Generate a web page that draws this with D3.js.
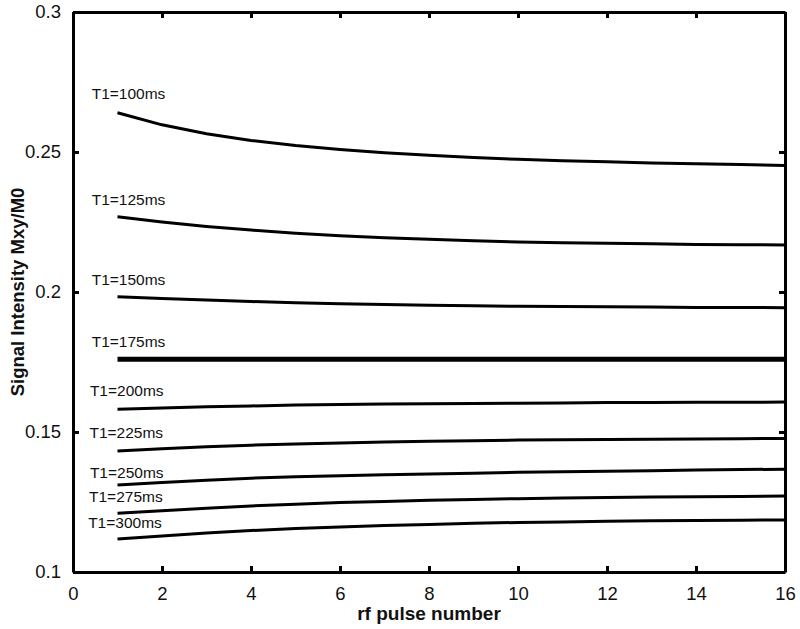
<!DOCTYPE html>
<html>
<head>
<meta charset="utf-8">
<script src="https://cdn.jsdelivr.net/npm/d3@7"></script>
<style>
    body { margin: 0; background: #fff; }
    text { font-family: Arial, "Liberation Sans", sans-serif; fill: #111; }
</style>
</head>
<body>
<svg id="chart"></svg>
<script>
// rf pulse numbers
let pulses = [1, 2, 3, 4, 5, 6, 7, 8, 9, 10, 11, 12, 13, 14, 15, 16];
let t1Labels = ['T1=100ms', 'T1=125ms', 'T1=150ms', 'T1=175ms', 'T1=200ms',
    'T1=225ms', 'T1=250ms', 'T1=275ms', 'T1=300ms'];

// signal intensity per curve
let s100 = [0.2640, 0.2597, 0.2565, 0.2541, 0.2523, 0.2509, 0.2497, 0.2488, 0.2480, 0.2474, 0.2469, 0.2465, 0.2461, 0.2458, 0.2455, 0.2452];
let s125 = [0.2269, 0.2250, 0.2234, 0.2221, 0.2210, 0.2201, 0.2194, 0.2188, 0.2183, 0.2179, 0.2176, 0.2174, 0.2172, 0.2170, 0.2169, 0.2168];
let s150 = [0.1983, 0.1977, 0.1971, 0.1966, 0.1962, 0.1958, 0.1955, 0.1953, 0.1951, 0.1949, 0.1948, 0.1947, 0.1946, 0.1945, 0.1945, 0.1944];
let s175 = [0.1760, 0.1760, 0.1760, 0.1760, 0.1760, 0.1760, 0.1760, 0.1760, 0.1760, 0.1760, 0.1760, 0.1760, 0.1760, 0.1760, 0.1760, 0.1760];
let s200 = [0.1581, 0.1586, 0.1590, 0.1593, 0.1596, 0.1598, 0.1600, 0.1601, 0.1602, 0.1603, 0.1604, 0.1605, 0.1605, 0.1606, 0.1606, 0.1607];
let s225 = [0.1432, 0.1440, 0.1447, 0.1453, 0.1457, 0.1461, 0.1464, 0.1467, 0.1469, 0.1471, 0.1472, 0.1473, 0.1474, 0.1475, 0.1476, 0.1477];
let s250 = [0.1311, 0.1320, 0.1328, 0.1335, 0.1340, 0.1344, 0.1347, 0.1350, 0.1353, 0.1356, 0.1358, 0.1360, 0.1362, 0.1364, 0.1366, 0.1367];
let s275 = [0.1210, 0.1219, 0.1228, 0.1236, 0.1242, 0.1248, 0.1252, 0.1256, 0.1259, 0.1262, 0.1264, 0.1266, 0.1268, 0.1269, 0.1270, 0.1271];
let s300 = [0.1118, 0.1129, 0.1139, 0.1148, 0.1155, 0.1161, 0.1166, 0.1170, 0.1174, 0.1177, 0.1179, 0.1181, 0.1183, 0.1184, 0.1185, 0.1186];

// where each label sits, in data units (pulse, intensity)
let labelX = [0.42, 0.42, 0.42, 0.42, 0.38, 0.37, 0.38, 0.36, 0.34];
let labelY = [0.2689, 0.2311, 0.2025, 0.1805, 0.1629, 0.1477, 0.1337, 0.1251, 0.1156];

let xTicks = [0, 2, 4, 6, 8, 10, 12, 14, 16];
let yTicks = [0.1, 0.15, 0.2, 0.25, 0.3];

let series = [s100, s125, s150, s175, s200, s225, s250, s275, s300];

let width = 800;
let height = 629;
let margin = {
    top: 12,
    bot: 57,
    left: 73,
    right: 15
};
let config = {
    margin: margin,
    bodyWidth: width - margin.left - margin.right,
    bodyHeight: height - margin.top - margin.bot,
    width: width,
    height: height
};

let svg = d3.select('#chart')
    .attr('width', width)
    .attr('height', height);

let xScale = d3.scaleLinear()
    .domain([0, 16])
    .range([0, config.bodyWidth]);
let yScale = d3.scaleLinear()
    .domain([0.1, 0.3])
    .range([config.bodyHeight, 0]);

let body = svg.append('g')
    .attr('transform', `translate(${margin.left},${margin.top})`);

// curves
let line = d3.line()
    .x((d, i) => xScale(pulses[i]))
    .y(d => yScale(d));

body.selectAll('path.curve')
    .data(series)
    .enter()
    .append('path')
    .attr('class', 'curve')
    .attr('d', d => line(d))
    .attr('fill', 'none')
    .attr('stroke', '#000')
    .attr('stroke-width', (d, i) => i === 3 ? 5 : 3);

body.selectAll('text.lab')
    .data(t1Labels)
    .enter()
    .append('text')
    .attr('class', 'lab')
    .attr('x', (d, i) => xScale(labelX[i]))
    .attr('y', (d, i) => yScale(labelY[i]))
    .style('font-size', '15.5px')
    .text(d => d);

// axes, MATLAB style: ticks inward on all four sides
let tickFmt = d => d3.format('~g')(d);
let axB = body.append('g')
    .attr('transform', `translate(0,${config.bodyHeight})`)
    .call(d3.axisBottom(xScale).tickValues(xTicks).tickSizeInner(-6).tickSizeOuter(0).tickPadding(15).tickFormat(tickFmt));
let axT = body.append('g')
    .call(d3.axisTop(xScale).tickValues(xTicks).tickSizeInner(-6).tickSizeOuter(0).tickFormat(''));
let axL = body.append('g')
    .call(d3.axisLeft(yScale).tickValues(yTicks).tickSizeInner(-6).tickSizeOuter(0).tickPadding(12).tickFormat(tickFmt));
let axR = body.append('g')
    .attr('transform', `translate(${config.bodyWidth},0)`)
    .call(d3.axisRight(yScale).tickValues(yTicks).tickSizeInner(-6).tickSizeOuter(0).tickFormat(''));

for (let ax of [axB, axT, axL, axR]) {
    ax.selectAll('path.domain').attr('stroke', '#000').attr('stroke-width', 3);
    ax.selectAll('.tick line').attr('stroke', '#000').attr('stroke-width', 3);
    ax.selectAll('.tick text')
        .style('font-family', 'Arial, "Liberation Sans", sans-serif')
        .style('font-size', '18.5px')
        .attr('fill', '#222');
}

// axis titles
svg.append('text')
    .attr('x', margin.left + config.bodyWidth / 2)
    .attr('y', 620)
    .style('text-anchor', 'middle')
    .style('font-size', '19px')
    .style('font-weight', 'bold')
    .text('rf pulse number');
svg.append('text')
    .attr('transform', 'rotate(-90)')
    .attr('x', -(margin.top + config.bodyHeight / 2))
    .attr('y', 24)
    .style('text-anchor', 'middle')
    .style('font-size', '18.5px')
    .style('font-weight', 'bold')
    .text('Signal Intensity Mxy/M0');
</script>
</body>
</html>
